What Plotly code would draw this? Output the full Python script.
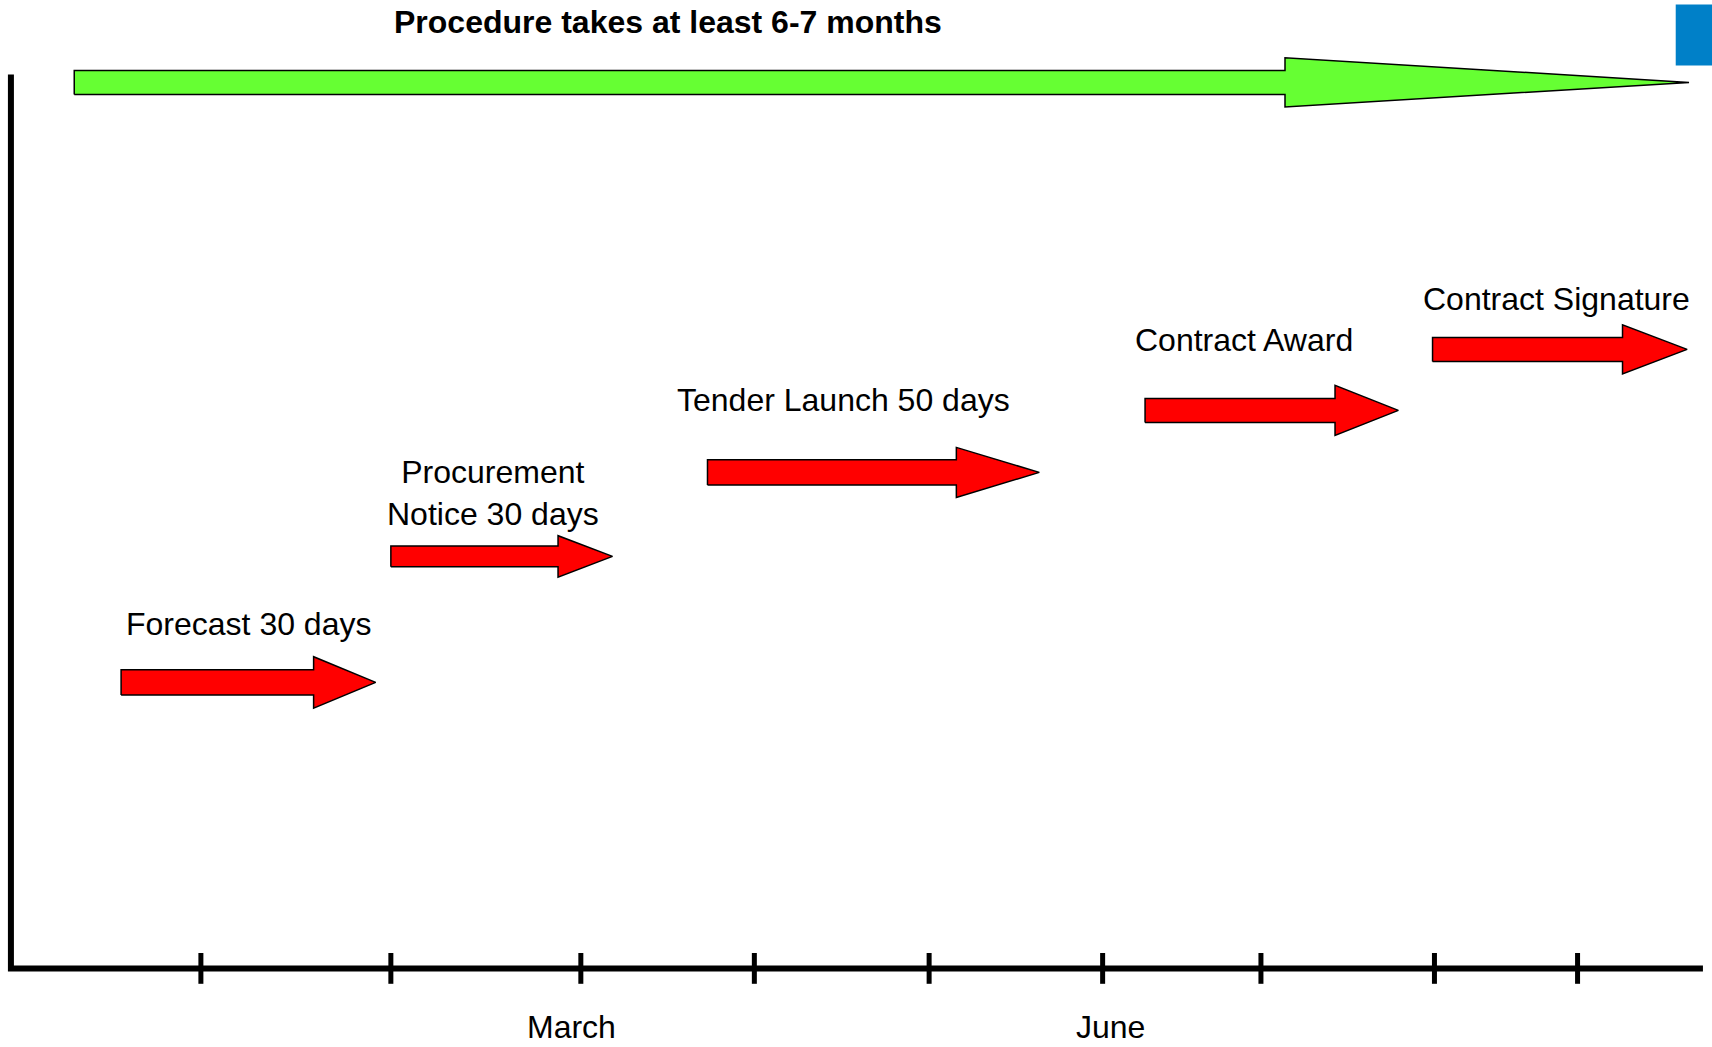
import plotly.graph_objects as go

# ---------------- data ----------------
phase_labels = ["Forecast 30 days", "Procurement<br>Notice 30 days", "Tender Launch 50 days",
                "Contract Award", "Contract Signature"]
phase_start = [17.4, 60.0, 110.0, 179.1, 224.5]     # timeline days (arrow tail)
phase_end = [57.6, 95.0, 162.4, 219.1, 264.7]       # timeline days (arrow tip)
phase_level = [28.6, 41.2, 49.6, 55.8, 61.9]        # vertical step height

overall_label = "Procedure takes at least 6-7 months"
overall_start = 10.0
overall_end = 265.0
overall_level = 88.6

tick_days = [30, 60, 90, 117.4, 145, 172.4, 197.4, 224.8, 247.4]
month_labels = ["March", "June"]
month_days = [88.6, 173.6]

# ---------------- styles ----------------
head_len = [9.8, 8.6, 13.1, 10.0, 10.2]
shaft_half = [1.26, 1.04, 1.26, 1.2, 1.2]
head_half = [2.57, 2.07, 2.5, 2.5, 2.45]
label_dx = [0.0, -1.3, -4.8, -4.4, -0.6]
label_dy = [5.8, 6.3, 7.2, 7.0, 5.0]

FONT = "Arial, 'Liberation Sans', sans-serif"


def arrow_xy(x0, x1, y, sh, hh, hl):
    xs = [x0, x1 - hl, x1 - hl, x1, x1 - hl, x1 - hl, x0, x0]
    ys = [y - sh, y - sh, y - hh, y, y + hh, y + sh, y + sh, y - sh]
    return xs, ys


fig = go.Figure()

# axes drawn as lines
fig.add_trace(go.Scatter(x=[0, 0, 267.2], y=[89.4, 0, 0], mode="lines",
                         line=dict(color="black", width=6), hoverinfo="skip", showlegend=False))
fig.add_trace(go.Scatter(x=tick_days, y=[0] * len(tick_days), mode="markers",
                         marker=dict(symbol="line-ns", size=22, line=dict(color="black", width=5)),
                         hoverinfo="skip", showlegend=False))

# overall green arrow
gx, gy = arrow_xy(overall_start, overall_end, overall_level, 1.2, 2.46, overall_end - 201.2)
fig.add_trace(go.Scatter(x=gx, y=gy, mode="lines", fill="toself", fillcolor="#66FF33",
                         line=dict(color="black", width=1.5), hoverinfo="skip", showlegend=False))

# phase arrows
for i in range(len(phase_labels)):
    ax, ay = arrow_xy(phase_start[i], phase_end[i], phase_level[i], shaft_half[i], head_half[i], head_len[i])
    fig.add_trace(go.Scatter(x=ax, y=ay, mode="lines", fill="toself", fillcolor="#FF0000",
                             line=dict(color="black", width=1.5), hoverinfo="skip", showlegend=False))
    fig.add_annotation(x=(phase_start[i] + phase_end[i]) / 2 + label_dx[i],
                       y=phase_level[i] + label_dy[i], text=phase_labels[i], showarrow=False,
                       xanchor="center", yanchor="middle",
                       font=dict(family=FONT, size=32, color="black"))

fig.add_annotation(x=103.7, y=94.6, text="<b>" + overall_label + "</b>", showarrow=False,
                   xanchor="center", yanchor="middle", font=dict(family=FONT, size=32, color="black"))

for lab, d in zip(month_labels, month_days):
    fig.add_annotation(x=d, y=-5.9, text=lab, showarrow=False, xanchor="center", yanchor="middle",
                       font=dict(family=FONT, size=32, color="black"))

# blue corner block
fig.add_shape(type="rect", xref="x", yref="y", x0=262.9, x1=275, y0=90.3, y1=96.4,
              fillcolor="rgb(0,128,200)", line=dict(width=0))

fig.update_layout(
    width=1712, height=1047,
    margin=dict(l=0, r=0, t=0, b=0),
    paper_bgcolor="white", plot_bgcolor="white",
    xaxis=dict(range=[-1.724, 268.63], visible=False, fixedrange=True),
    yaxis=dict(range=[-7.86, 96.84], visible=False, fixedrange=True),
    showlegend=False,
)

fig.write_html("out.html", config={"displayModeBar": False},
               post_script="document.body.style.margin='0';document.body.style.overflow='hidden';")
